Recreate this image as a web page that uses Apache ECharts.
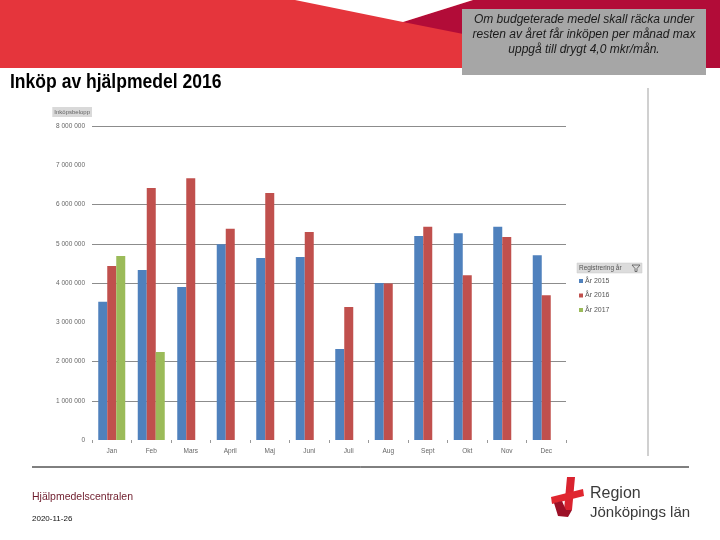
<!DOCTYPE html>
<html>
<head>
<meta charset="utf-8">
<script src="https://cdn.jsdelivr.net/npm/echarts@6/dist/echarts.min.js"></script>
<style>
html,body{margin:0;padding:0;background:#fff;}
#c{width:720px;height:540px;}
</style>
</head>
<body>
<div id="c"></div>
<script>
var months = ['Jan','Feb','Mars','April','Maj','Juni','Juli','Aug','Sept','Okt','Nov','Dec'];
var seriesNames = ['År 2015','År 2016','År 2017'];
var y2015 = [3520000,4330000,3900000,4990000,4640000,4660000,2320000,4000000,5200000,5270000,5430000,4710000];
var y2016 = [4430000,6420000,6670000,5380000,6290000,5300000,3390000,3990000,5430000,4200000,5170000,3690000];
var y2017 = [4690000,2240000,null,null,null,null,null,null,null,null,null,null];
var yTicks = [0,1000000,2000000,3000000,4000000,5000000,6000000,7000000,8000000];

var chart = echarts.init(document.getElementById('c'));
var gridCol = '#8c8c8c';
var splitColors = yTicks.map(function(v){ return (v===0||v===3000000||v===7000000)?'rgba(0,0,0,0)':gridCol; });
function fmt(v){ return String(v).replace(/\B(?=(\d{3})+(?!\d))/g,' '); }
var lab = {fontFamily:'Liberation Sans', fontSize:6.5, color:'#666'};

chart.setOption({
  animation:false,
  color:['#4f81bd','#c0504d','#9bbb59'],
  grid:{left:92, top:126, width:474, height:314},
  legend:{
    orient:'vertical', left:579, top:276.5, itemWidth:4, itemHeight:4, itemGap:5.5,
    icon:'rect', data:seriesNames, padding:[0,0,0,0],
    textStyle:{fontFamily:'Liberation Sans', fontSize:7, color:'#555', lineHeight:9, padding:[0,0,0,-3]}
  },
  xAxis:{
    type:'category', data:months,
    axisLine:{show:false},
    axisTick:{show:true, length:3, lineStyle:{color:'#999'}},
    axisLabel:Object.assign({margin:8, interval:0}, lab)
  },
  yAxis:{
    type:'value', min:0, max:8000000, interval:1000000,
    name:'Inköpsbelopp', nameLocation:'end', nameGap:14,
    nameTextStyle:{fontFamily:'Liberation Sans', fontSize:6, color:'#666', align:'right', verticalAlign:'middle',
      backgroundColor:'#d9d9d9', padding:[2,2,2,2]},
    axisLine:{show:false}, axisTick:{show:false},
    axisLabel:Object.assign({margin:7, formatter:fmt}, lab),
    splitLine:{show:true, lineStyle:{color:splitColors, width:1}}
  },
  series:[
    {name:seriesNames[0], type:'bar', data:y2015, barWidth:9, barGap:'0%'},
    {name:seriesNames[1], type:'bar', data:y2016, barWidth:9, barGap:'0%'},
    {name:seriesNames[2], type:'bar', data:y2017, barWidth:9, barGap:'0%'}
  ],
  graphic:[
    {type:'rect', shape:{x:0,y:0,width:720,height:68}, style:{fill:'#e5353c'}, silent:true},
    {type:'polygon', shape:{points:[[473,0],[720,0],[720,68],[634,68],[403,22]]}, style:{fill:'#b20c38'}, silent:true},
    {type:'polygon', shape:{points:[[295,0],[473,0],[403,22]]}, style:{fill:'#ffffff'}, silent:true},
    {type:'rect', shape:{x:462,y:9,width:244,height:66}, style:{fill:'#a6a6a6'}, silent:true},
    {type:'text', x:584, y:20, style:{text:'Om budgeterade medel skall räcka under', fontFamily:'Liberation Sans', fontStyle:'italic', fontSize:12, fill:'#1a1a1a', align:'center', verticalAlign:'middle'}},
    {type:'text', x:584, y:35, style:{text:'resten av året får inköpen per månad max', fontFamily:'Liberation Sans', fontStyle:'italic', fontSize:12, fill:'#1a1a1a', align:'center', verticalAlign:'middle'}},
    {type:'text', x:584, y:50, style:{text:'uppgå till drygt 4,0 mkr/mån.', fontFamily:'Liberation Sans', fontStyle:'italic', fontSize:12, fill:'#1a1a1a', align:'center', verticalAlign:'middle'}},
    {type:'text', x:10, y:82, scaleX:0.835, style:{text:'Inköp av hjälpmedel 2016', fontFamily:'Liberation Sans', fontWeight:'bold', fontSize:21, fill:'#000', verticalAlign:'middle'}},
    {type:'line', shape:{x1:648,y1:88,x2:648,y2:456}, style:{stroke:'#d0d0d0', lineWidth:2}, silent:true},
    {type:'rect', shape:{x:577,y:263,width:65,height:10}, style:{fill:'#dcdcdc', stroke:'#c8c8c8', lineWidth:0.5}, silent:true},
    {type:'text', x:579, y:268, style:{text:'Registrering år', fontFamily:'Liberation Sans', fontSize:6.5, fill:'#555', verticalAlign:'middle'}},
    {type:'polygon', shape:{points:[[632,265],[640,265],[637,268.5],[637,271.5],[635,271.5],[635,268.5]]}, style:{fill:'none', stroke:'#555', lineWidth:0.8}, silent:true},
    {type:'line', shape:{x1:32,y1:467,x2:689,y2:467}, style:{stroke:'#000', lineWidth:1}, silent:true},
    {type:'text', x:32, y:497, style:{text:'Hjälpmedelscentralen', fontFamily:'Liberation Sans', fontSize:10.5, fill:'#6e1c2c', verticalAlign:'middle'}},
    {type:'text', x:32, y:519, style:{text:'2020-11-26', fontFamily:'Liberation Sans', fontSize:8, fill:'#111', verticalAlign:'middle'}},
    {type:'polygon', shape:{points:[[567,477],[575,477],[572,510],[564,510]]}, style:{fill:'#d9232f'}, silent:true},
    {type:'polygon', shape:{points:[[551,497],[583,489],[584,496],[552,504]]}, style:{fill:'#e0262f'}, silent:true},
    {type:'polygon', shape:{points:[[554,503],[562,501],[566,510],[572,510],[568,517],[558,516]]}, style:{fill:'#9c1027'}, silent:true},
    {type:'text', x:590, y:494, style:{text:'Region', fontFamily:'Liberation Sans', fontSize:16, fill:'#3a3a3a', verticalAlign:'middle'}},
    {type:'text', x:590, y:513, style:{text:'Jönköpings län', fontFamily:'Liberation Sans', fontSize:15, fill:'#3a3a3a', verticalAlign:'middle'}}
  ]
});
</script>
</body>
</html>
